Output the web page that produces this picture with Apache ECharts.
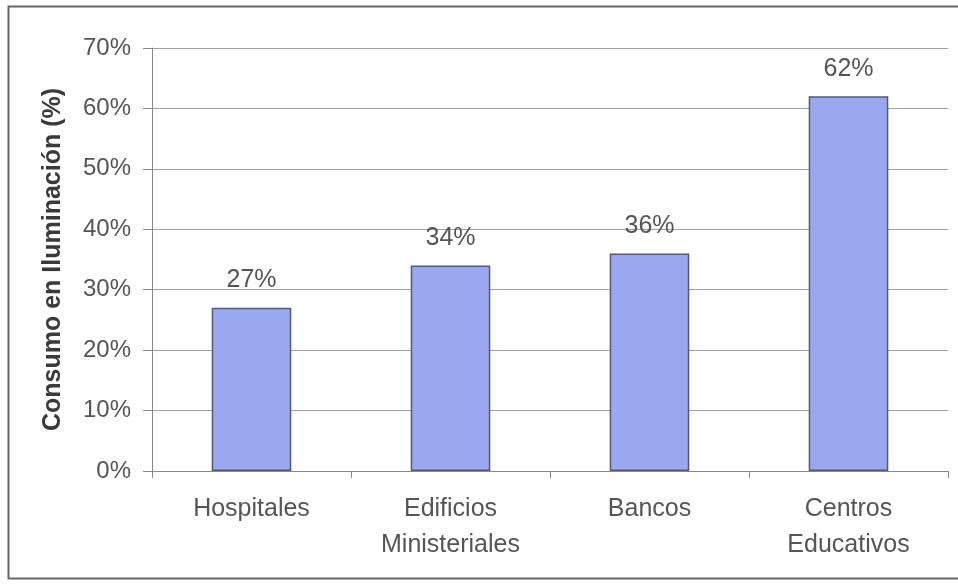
<!DOCTYPE html>
<html>
<head>
<meta charset="utf-8">
<script src="https://cdn.jsdelivr.net/npm/echarts@6/dist/echarts.min.js"></script>
<style>
  html, body { margin: 0; padding: 0; background: #fff; }
  #chart { width: 958px; height: 587px; }
</style>
</head>
<body>
<div id="chart"></div>
<script>
// Consumo en iluminación por tipo de edificio
const categories = ['Hospitales', 'Edificios\nMinisteriales', 'Bancos', 'Centros\nEducativos'];
const consumo = [27, 34, 36, 62];
const yTicks = [0, 10, 20, 30, 40, 50, 60, 70];

const font = '"Liberation Sans", Arial, sans-serif';
const textColor = '#555';

const chart = echarts.init(document.getElementById('chart'), null, { renderer: 'canvas' });
chart.setOption({
  animation: false,
  backgroundColor: '#fff',
  graphic: [{
    type: 'rect',
    shape: { x: 8.5, y: 6.5, width: 960, height: 572 },
    style: { fill: 'none', stroke: '#666', lineWidth: 2 },
    silent: true
  }],
  grid: { left: 152, right: 10, top: 48, bottom: 116 },
  xAxis: {
    type: 'category',
    data: categories,
    axisLine: { lineStyle: { color: '#888', width: 1 } },
    axisTick: { show: true, length: 7, lineStyle: { color: '#888' } },
    axisLabel: {
      color: textColor, fontFamily: font, fontSize: 25,
      margin: 20, lineHeight: 36
    }
  },
  yAxis: {
    type: 'value',
    min: yTicks[0],
    max: yTicks[yTicks.length - 1],
    interval: 10,
    name: 'Consumo en Iluminación (%)',
    nameLocation: 'middle',
    nameGap: 86,
    nameTextStyle: { color: '#3a3a3a', fontFamily: font, fontSize: 25, fontWeight: 'bold' },
    axisLine: { show: true, lineStyle: { color: '#888' } },
    axisTick: { show: true, length: 9, lineStyle: { color: '#888' } },
    axisLabel: {
      color: textColor, fontFamily: font, fontSize: 24, margin: 21,
      formatter: v => v + '%'
    },
    splitLine: { show: true, lineStyle: { color: '#a0a0a0', width: 1 } }
  },
  series: [{
    type: 'bar',
    data: consumo,
    barWidth: '40%',
    itemStyle: { color: '#9aa8ef', borderColor: '#555a70', borderWidth: 1.5 },
    label: {
      show: true, position: 'top', distance: 15,
      color: textColor, fontFamily: font, fontSize: 25,
      formatter: p => p.value + '%'
    }
  }]
});
</script>
</body>
</html>
